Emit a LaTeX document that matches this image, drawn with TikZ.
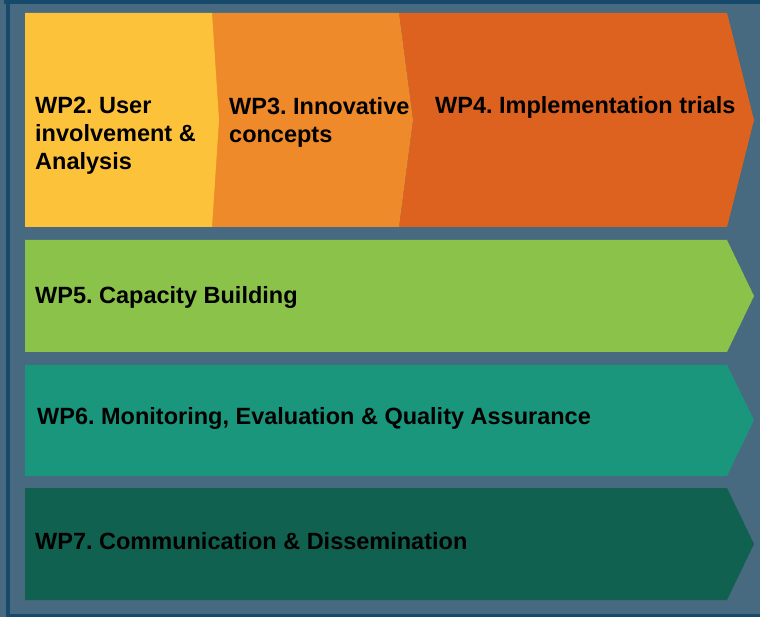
\documentclass[tikz,border=0pt]{standalone}
\usepackage{fontspec}
\setmainfont{Liberation Sans}
\frenchspacing
\definecolor{bgslate}{RGB}{71,106,129}
\definecolor{frame}{RGB}{23,74,106}
\definecolor{cyellow}{RGB}{252,195,58}
\definecolor{corange}{RGB}{238,138,42}
\definecolor{cdorange}{RGB}{221,97,31}
\definecolor{cgreen}{RGB}{139,195,74}
\definecolor{cteal}{RGB}{26,150,125}
\definecolor{cdgreen}{RGB}{17,97,80}
\tikzset{
  lbl/.style={inner sep=0pt, font=\fontsize{23.5}{28}\selectfont\bfseries\frenchspacing, text=black, align=left},
}
\begin{document}
\begin{tikzpicture}[x=1pt,y=-1pt]
\useasboundingbox (0,0) rectangle (760,617);
\fill[bgslate] (0,0) rectangle (760,617);
\fill[frame] (4,0) rectangle (760,4);
\fill[frame] (6,0) rectangle (10,617);
\fill[frame] (10,614) rectangle (760,617);
% row 1
\fill[cdorange] (399,13) -- (727,13) -- (754,120) -- (727,227) -- (399,227) -- (413,120) -- cycle;
\fill[corange] (212,13) -- (399,13) -- (413,120) -- (399,227) -- (212,227) -- cycle;
\fill[cyellow] (25,13) -- (212,13) -- (219,120) -- (212,227) -- (25,227) -- cycle;
% rows 2-4
\fill[cgreen] (25,240) -- (727,240) -- (754,296) -- (727,352) -- (25,352) -- cycle;
\fill[cteal] (25,365) -- (727,365) -- (754,420) -- (727,476) -- (25,476) -- cycle;
\fill[cdgreen] (25,488) -- (727,488) -- (754,544) -- (727,600) -- (25,600) -- cycle;
% labels
\node[lbl, anchor=north west] (wp2) at (35,97.3) {WP2. User\\involvement \&\\Analysis};
\node[lbl, anchor=north west] (wp3) at (229,97.3) {WP3. Innovative\\concepts};
\node[lbl, anchor=base west] (wp4) at (435,114) {WP4. Implementation trials};
\node[lbl, anchor=base west] (wp5) at (35,304) {WP5. Capacity Building};
\node[lbl, anchor=base west] (wp6) at (37,424) {WP6. Monitoring, Evaluation \& Quality Assurance};
\node[lbl, anchor=base west] (wp7) at (35,549) {WP7. Communication \& Dissemination};
\end{tikzpicture}
\end{document}
